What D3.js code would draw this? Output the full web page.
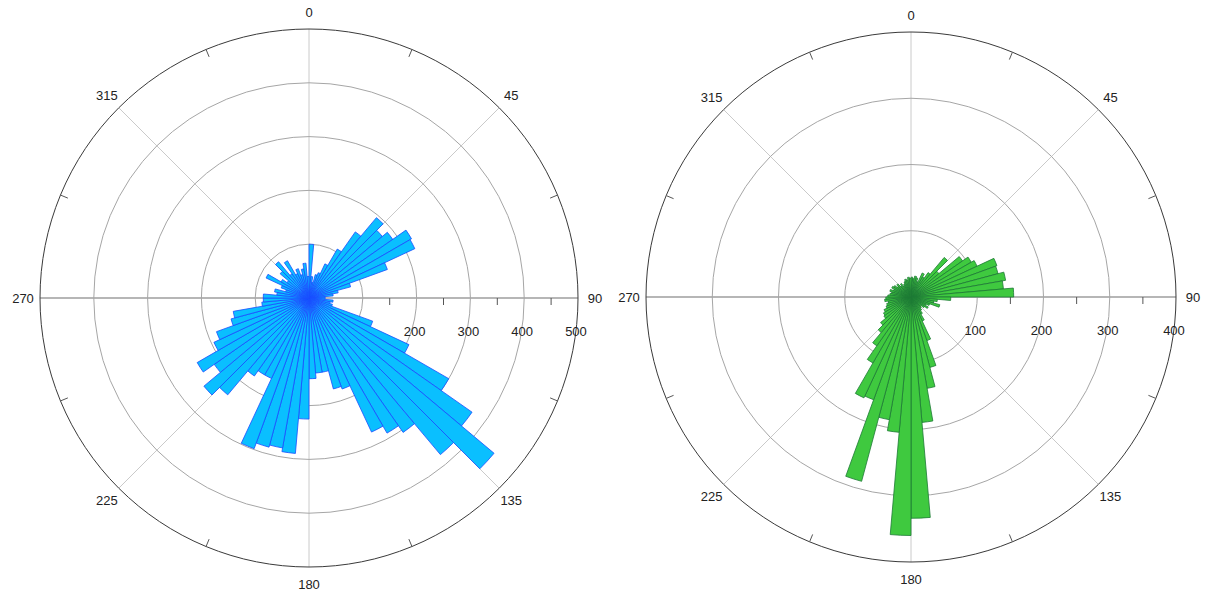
<!DOCTYPE html>
<html lang="en">
<head>
<meta charset="UTF-8">
<title>Polar histograms</title>
<style>
    body { margin: 0; background: #fff; font-family: Arial, "Liberation Sans", sans-serif; }
    svg { display: block; }
    .lbl { font-size: 13px; fill: #222; }
</style>
</head>
<body>
<svg id="chart" width="1205" height="592"></svg>
<script src="https://d3js.org/d3.v7.min.js"></script>
<script>
// bin start angles (degrees, 5 degree bins, clockwise from north)
const binAngles = [0, 5, 10, 15, 20, 25, 30, 35, 40, 45, 50, 55, 60, 65, 70, 75, 80, 85,
    90, 95, 100, 105, 110, 115, 120, 125, 130, 135, 140, 145, 150, 155, 160, 165, 170, 175,
    180, 185, 190, 195, 200, 205, 210, 215, 220, 225, 230, 235, 240, 245, 250, 255, 260, 265,
    270, 275, 280, 285, 290, 295, 300, 305, 310, 315, 320, 325, 330, 335, 340, 345, 350, 355];

const blueCounts = [100, 40, 30, 45, 50, 70, 105, 150, 195, 178, 190, 220, 217, 155, 80, 55, 45, 30,
    30, 45, 40, 45, 126, 205, 300, 370, 449, 380, 305, 290, 275, 180, 175, 140, 140, 150,
    225, 290, 283, 287, 298, 165, 165, 177, 235, 255, 215, 240, 195, 183, 150, 143, 88, 85,
    85, 60, 65, 45, 55, 88, 60, 50, 70, 88, 55, 80, 50, 58, 45, 55, 65, 40];

const greenCounts = [30, 28, 32, 30, 25, 40, 35, 45, 78, 55, 95, 105, 110, 138, 136, 145, 140, 155,
    60, 40, 35, 45, 30, 25, 30, 25, 20, 22, 25, 30, 40, 70, 110, 140, 190, 334,
    360, 205, 188, 288, 165, 168, 115, 90, 70, 60, 50, 48, 45, 40, 38, 35, 40, 38,
    35, 32, 30, 33, 28, 32, 30, 25, 28, 22, 25, 20, 22, 25, 28, 26, 30, 28];

const thetaLabels = [0, 45, 90, 135, 180, 225, 270, 315];
const blueRings = [100, 200, 300, 400, 500];
const blueRLabels = [200, 300, 400, 500];
const blueMinor = [150, 250, 350, 450];
const greenRings = [100, 200, 300, 400];
const greenRLabels = [100, 200, 300, 400];
const greenMinor = [150, 250, 350];

const svg = d3.select("#chart");
const rad = d => d * Math.PI / 180;

function drawRose(cfg) {
    const g = svg.append("g").attr("transform", `translate(${cfg.cx},${cfg.cy})`);
    const r = d3.scaleLinear().domain([0, cfg.max]).range([0, cfg.radius]);

    // spokes every 45 degrees
    g.selectAll(".spoke").data(thetaLabels).join("line")
        .attr("x1", 0).attr("y1", 0)
        .attr("x2", d => r(cfg.max) * Math.sin(rad(d)))
        .attr("y2", d => -r(cfg.max) * Math.cos(rad(d)))
        .attr("stroke", d => (d % 180 === 90) ? "#6e6e6e" : "#c4c4c4")
        .attr("stroke-width", d => (d % 180 === 90) ? 1.1 : 0.9);

    // rings
    g.selectAll(".ring").data(cfg.rings).join("circle")
        .attr("r", d => r(d))
        .attr("fill", "none")
        .attr("stroke", d => d === cfg.max ? "#3a3a3a" : "#a6a6a6")
        .attr("stroke-width", d => d === cfg.max ? 1 : 1);

    // minor ticks on the outer circle
    g.selectAll(".otick").data(thetaLabels.map(d => d + 22.5)).join("line")
        .attr("x1", d => r(cfg.max) * Math.sin(rad(d)))
        .attr("y1", d => -r(cfg.max) * Math.cos(rad(d)))
        .attr("x2", d => (r(cfg.max) - 8) * Math.sin(rad(d)))
        .attr("y2", d => -(r(cfg.max) - 8) * Math.cos(rad(d)))
        .attr("stroke", "#555").attr("stroke-width", 1);

    // minor ticks on the radial axis (towards 90)
    g.selectAll(".rtick").data(cfg.minor).join("line")
        .attr("x1", d => r(d)).attr("x2", d => r(d))
        .attr("y1", 0).attr("y2", 7)
        .attr("stroke", "#555").attr("stroke-width", 1);

    // radial labels
    g.selectAll(".rlbl").data(cfg.rLabels).join("text")
        .attr("class", "lbl")
        .attr("x", d => r(d) - 2).attr("y", 38)
        .attr("text-anchor", "middle")
        .text(d => d);

    // theta labels
    g.selectAll(".tlbl").data(thetaLabels).join("text")
        .attr("class", "lbl")
        .attr("x", d => (r(cfg.max) + 17) * Math.sin(rad(d)))
        .attr("y", d => -(r(cfg.max) + 17) * Math.cos(rad(d)))
        .attr("text-anchor", "middle")
        .attr("dominant-baseline", "central")
        .text(d => d);

    // bars
    const arc = d3.arc().innerRadius(0);
    g.selectAll(".bar").data(binAngles.map((a, i) => ({ a, v: cfg.counts[i] }))).join("path")
        .attr("d", d => arc({ startAngle: rad(d.a), endAngle: rad(d.a + 5), outerRadius: r(d.v) }))
        .attr("fill", cfg.fill)
        .attr("stroke", cfg.stroke)
        .attr("stroke-width", 0.8)
        .attr("stroke-linejoin", "miter");
}

drawRose({ cx: 309, cy: 298, radius: 269, max: 500, rings: blueRings, rLabels: blueRLabels,
    minor: blueMinor, counts: blueCounts, fill: "#0abfff", stroke: "#1a4cff" });
drawRose({ cx: 911, cy: 297, radius: 265, max: 400, rings: greenRings, rLabels: greenRLabels,
    minor: greenMinor, counts: greenCounts, fill: "#3fc93f", stroke: "#1d7a35" });
</script>
</body>
</html>
